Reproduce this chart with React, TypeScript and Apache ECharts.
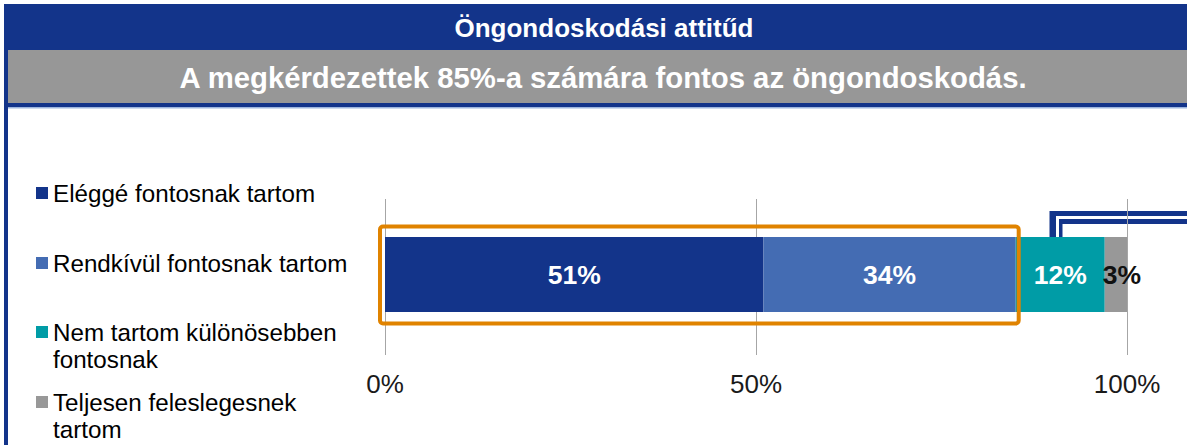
import React, { useEffect, useRef } from "react";
import * as echarts from "echarts";

const title = "Öngondoskodási attitűd";
const subtitle = "A megkérdezettek 85%-a számára fontos az öngondoskodás.";
const categories = ["Öngondoskodás"];
const seriesNames = [
  "Eléggé fontosnak tartom",
  "Rendkívül fontosnak tartom",
  "Nem tartom különösebben\nfontosnak",
  "Teljesen feleslegesnek\ntartom",
];
const seriesValues = [[51], [34], [12], [3]];
const seriesColors = ["#13348A", "#446CB3", "#009CA6", "#989898"];
const labelColors = ["#ffffff", "#ffffff", "#ffffff", "#111111"];
const xTicks = [0, 50, 100];
const highlightUpTo = 85;

const FONT = "'Liberation Sans', Arial, sans-serif";

export default function App() {
  const ref = useRef<HTMLDivElement>(null);
  useEffect(() => {
    if (!ref.current) return;
    const chart = echarts.init(ref.current, null, { renderer: "svg" });

    const legendTops = [193, 263, 332, 402];
    const legendGraphics: any[] = [];
    seriesNames.forEach((n, i) => {
      legendGraphics.push({
        type: "rect",
        shape: { x: 36, y: legendTops[i] - 6, width: 12, height: 12 },
        style: { fill: seriesColors[i] },
      });
      legendGraphics.push({
        type: "text",
        x: 53,
        y: legendTops[i] - 13.5,
        style: {
          text: n,
          fill: "#000",
          font: `24.2px ${FONT}`,
          lineHeight: 27,
          verticalAlign: "top",
        },
      });
    });

    const baseGraphics: any[] = [
      { type: "rect", shape: { x: 4, y: 4, width: 1183, height: 46 }, style: { fill: "#13348A" } },
      { type: "rect", shape: { x: 8, y: 50, width: 1179, height: 53 }, style: { fill: "#979797" } },
      { type: "rect", shape: { x: 4, y: 103, width: 1183, height: 4 }, style: { fill: "#13348A" } },
      { type: "rect", shape: { x: 8, y: 107, width: 1179, height: 1.5 }, style: { fill: "#9DB5DE" } },
      { type: "rect", shape: { x: 4, y: 4, width: 4, height: 441 }, style: { fill: "#13348A" } },
      {
        type: "text",
        x: 604,
        y: 28,
        style: {
          text: title,
          fill: "#fff",
          font: `bold 26px ${FONT}`,
          align: "center",
          verticalAlign: "middle",
        },
      },
      {
        type: "text",
        x: 603,
        y: 77,
        style: {
          text: subtitle,
          fill: "#fff",
          font: `bold 29.3px ${FONT}`,
          align: "center",
          verticalAlign: "middle",
        },
      },
      {
        type: "polyline",
        shape: { points: [[1056, 245], [1056, 217.5], [1187, 217.5]] },
        style: { stroke: "#13348A", lineWidth: 13, fill: "none", lineJoin: "miter" },
      },
      {
        type: "polyline",
        shape: { points: [[1057.5, 238], [1057.5, 217.5], [1187, 217.5]] },
        style: { stroke: "#ffffff", lineWidth: 3, fill: "none", lineJoin: "miter" },
      },
    ];

    const option: any = {
      animation: false,
      grid: { left: 385, right: 60, top: 199, bottom: 95, containLabel: false },
      xAxis: {
        type: "value",
        min: 0,
        max: 100,
        interval: 50,
        axisLine: { show: false },
        axisTick: { show: true, length: 5, lineStyle: { color: "#A6A6A6" } },
        splitLine: { show: true, lineStyle: { color: "#A6A6A6", width: 1 } },
        axisLabel: {
          formatter: (v: number) => (xTicks.includes(v) ? `${v}%` : ""),
          color: "#1a1a1a",
          fontSize: 26,
          fontFamily: FONT,
          margin: 21,
        },
      },
      yAxis: {
        type: "category",
        data: categories,
        axisLine: { show: false },
        axisTick: { show: false },
        axisLabel: { show: false },
      },
      series: seriesNames.map((n, i) => ({
        name: n,
        type: "bar",
        stack: "total",
        barWidth: 75,
        data: seriesValues[i],
        itemStyle: { color: seriesColors[i] },
        label: {
          show: true,
          position: "inside",
          offset: i === 3 ? [6, 0] : [0, 0],
          formatter: (p: any) => `${p.value}%`,
          color: labelColors[i],
          fontWeight: "bold",
          fontSize: 26.5,
          fontFamily: FONT,
        },
      })),
      graphic: [...baseGraphics, ...legendGraphics],
    };
    chart.setOption(option);

    const x0 = chart.convertToPixel({ xAxisIndex: 0 }, 0) as number;
    const x1 = chart.convertToPixel({ xAxisIndex: 0 }, highlightUpTo) as number;
    const yc = chart.convertToPixel({ yAxisIndex: 0 }, categories[0]) as number;
    chart.setOption({
      graphic: [
        ...baseGraphics,
        ...legendGraphics,
        {
          type: "rect",
          shape: { x: x0 - 5, y: yc - 48, width: x1 - x0 + 8, height: 97, r: 3 },
          style: { fill: "none", stroke: "#E08300", lineWidth: 4 },
          z: 100,
        },
      ],
    });

    return () => chart.dispose();
  }, []);
  return (
    <div
      ref={ref}
      style={{ position: "fixed", left: 0, top: 0, width: 1187, height: 445, background: "#fff" }}
    />
  );
}
